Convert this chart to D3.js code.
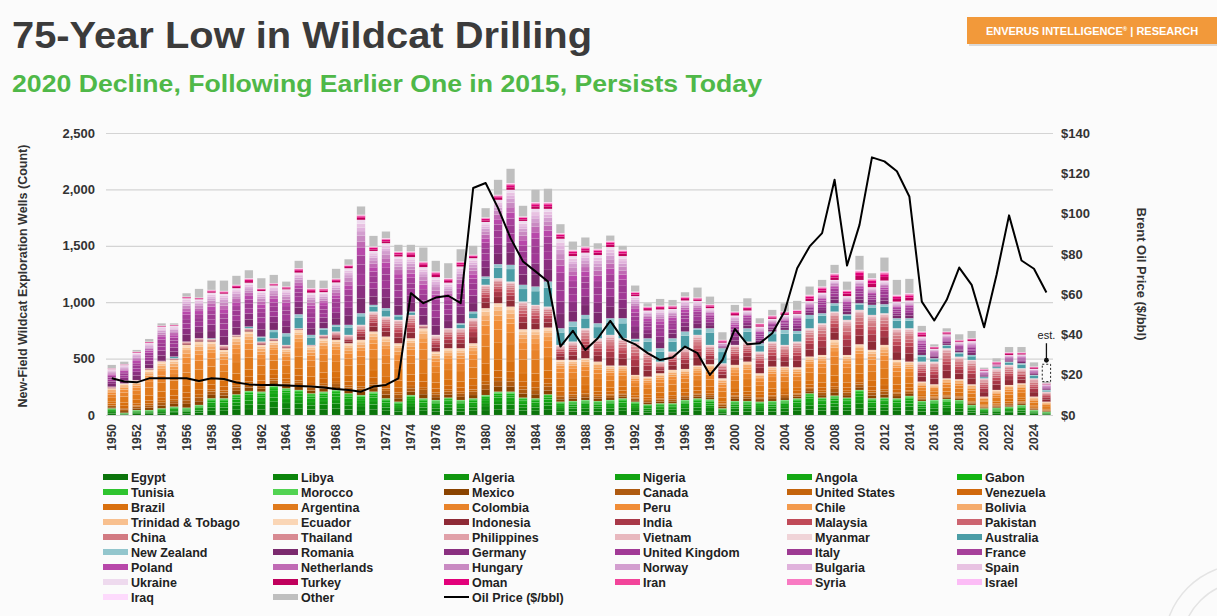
<!DOCTYPE html>
<html><head><meta charset="utf-8">
<script src="https://cdn.jsdelivr.net/npm/d3@7"></script>
<style>
body{margin:0;background:#fbfbfb}
svg{display:block;font-family:"Liberation Sans",Arial,Helvetica,sans-serif}
</style>
</head><body>
<svg id="chart" width="1217" height="616"></svg>
<script>
// ---------------- DATA ----------------
const years = d3.range(1950, 2026);
const xTickYears = d3.range(1950, 2026, 2);
const leftTicks = [0, 500, 1000, 1500, 2000, 2500];
const rightTicks = [0, 20, 40, 60, 80, 100, 120, 140];

// wells per region
const africa = [59,20,44,44,59,74,65,89,148,148,183,213,207,260,237,222,192,207,222,192,177,207,148,118,177,148,133,154,133,148,177,207,207,154,148,183,118,124,133,124,133,148,118,95,104,104,133,148,139,59,124,124,118,124,133,148,192,154,172,154,222,148,154,148,169,124,133,142,133,89,59,65,74,89,44,30];
const americas = [178,257,252,356,414,414,556,562,503,429,512,527,414,397,355,532,419,473,444,444,489,533,547,518,503,621,429,438,459,488,770,784,754,606,612,592,370,364,370,349,305,290,237,245,266,296,275,290,311,266,320,349,252,305,296,275,326,378,494,378,405,429,467,340,304,172,139,183,184,183,104,157,192,192,119,88];
const asia = [14,4,14,14,7,15,30,29,24,44,15,29,30,23,29,15,10,30,74,74,133,177,178,207,207,30,148,177,177,222,207,222,222,246,216,186,133,163,266,207,272,242,296,222,103,162,184,272,171,133,177,178,192,222,192,228,251,281,251,311,305,310,281,281,296,177,201,267,200,216,162,192,178,133,162,89];
const oceania = [0,0,0,0,0,15,0,0,5,0,0,15,44,74,104,124,89,59,59,89,103,59,74,44,30,0,0,0,44,59,74,124,148,148,163,222,148,177,118,133,148,178,24,118,119,118,148,59,148,134,0,118,74,89,133,94,118,89,74,50,59,89,80,89,89,59,30,29,39,44,15,15,29,45,30,15];
const europe = [155,161,242,224,303,272,384,346,404,454,414,388,404,394,389,369,374,320,376,502,828,478,576,518,483,512,512,404,503,473,483,570,665,566,688,644,793,581,552,605,631,551,379,246,343,260,275,242,178,49,261,157,147,112,133,152,123,182,206,161,206,157,210,147,157,163,84,94,90,123,53,19,58,77,54,49];
const mideast = [8,8,10,12,10,10,15,15,25,25,30,40,25,20,25,40,40,35,35,30,45,40,45,45,50,50,50,40,45,30,40,45,60,40,60,60,50,55,55,55,55,55,40,35,35,30,35,30,35,25,35,35,30,30,30,35,55,55,60,55,90,80,80,60,65,45,20,25,20,25,15,25,25,20,20,10];
const other = [30,23,15,24,20,13,30,77,83,92,80,72,89,74,44,65,74,68,86,50,74,94,59,59,59,124,95,133,109,80,83,133,127,95,110,119,80,74,80,50,47,36,54,30,59,50,39,89,68,68,59,74,45,50,74,80,74,59,74,74,124,44,124,133,127,50,20,29,50,65,12,30,47,47,38,15];
const est2025 = 450; // full-year estimate shown as dashed box

// Brent oil price ($/bbl, real)
const oilPrice = [18.2,16.6,16.2,18.2,18.2,18.2,18.2,16.9,18.2,17.9,16.1,15.2,14.9,14.9,14.6,14.4,14.1,13.6,12.9,12.4,11.6,14.1,14.9,18.2,60.5,55.5,58.3,59.2,55.5,112.7,115.2,102.7,87.8,76.2,71.3,66.3,34.0,41.8,32.3,38.1,46.7,37.8,35.1,30.7,27.3,28.5,34.0,30.7,19.9,27.3,42.7,35.1,35.6,40.6,51.5,72.9,83.7,90.3,116.8,74.2,94.4,127.9,125.9,121.0,108.5,56.3,46.9,57.2,73.2,64.6,43.6,69.6,99.1,76.7,72.6,60.8];

// countries per region and estimated share of the region's wells
const africaCountries = ["Egypt","Libya","Algeria","Nigeria","Angola","Gabon","Tunisia","Morocco"];
const africaShares = [0.25,0.2,0.15,0.15,0.1,0.07,0.05,0.03];
const americasCountries = ["Mexico","Canada","United States","Venezuela","Brazil","Argentina","Colombia","Peru","Chile","Bolivia","Trinidad & Tobago","Ecuador"];
const americasShares = [0.06,0.06,0.04,0.08,0.12,0.2,0.14,0.1,0.06,0.06,0.04,0.04];
const asiaCountries = ["Indonesia","India","Malaysia","Pakistan","China","Thailand","Philippines","Vietnam","Myanmar"];
const asiaShares = [0.25,0.2,0.12,0.1,0.1,0.08,0.06,0.05,0.04];
const oceaniaCountries = ["Australia","New Zealand"];
const oceaniaShares = [0.75,0.25];
const europeCountries = ["Romania","Germany","United Kingdom","Italy","France","Poland","Netherlands","Hungary","Norway","Bulgaria","Spain","Ukraine"];
const europeShares = [0.16,0.14,0.12,0.1,0.1,0.08,0.07,0.06,0.05,0.04,0.04,0.04];
const mideastCountries = ["Turkey","Oman","Iran","Syria","Israel","Iraq"];
const mideastShares = [0.4,0.3,0.12,0.08,0.05,0.05];

const seriesColors = {
  "Egypt":"#0b740b","Libya":"#0c840c","Algeria":"#10960f","Nigeria":"#12a312","Angola":"#14a814","Gabon":"#12b412",
  "Tunisia":"#2fc42f","Morocco":"#52d352","Mexico":"#8a4300","Canada":"#ae5a10","United States":"#c4640c","Venezuela":"#d0680c",
  "Brazil":"#d9700f","Argentina":"#e07a1c","Colombia":"#e8832a","Peru":"#f08c36","Chile":"#f39a4c","Bolivia":"#f5ab6c",
  "Trinidad & Tobago":"#f8c08f","Ecuador":"#fad6b6","Indonesia":"#8e2a36","India":"#a83848","Malaysia":"#c04a58","Pakistan":"#cc6470",
  "China":"#d27a82","Thailand":"#d88a92","Philippines":"#e0a0a8","Vietnam":"#e8b8be","Myanmar":"#f0d4d8","Australia":"#4b9da6",
  "New Zealand":"#93c6cd","Romania":"#7b2a6e","Germany":"#8a3080","United Kingdom":"#a13a96","Italy":"#9d3a92","France":"#a6409a",
  "Poland":"#b848aa","Netherlands":"#c06ab4","Hungary":"#c98ac2","Norway":"#d39ecf","Bulgaria":"#e0b2dc","Spain":"#e8c2e2",
  "Ukraine":"#eedaee","Turkey":"#c0005c","Oman":"#e2007a","Iran":"#f2449a","Syria":"#f87ac2","Israel":"#fcbcf6","Iraq":"#fddafc",
  "Other":"#bfbfbf"
};

// ---------------- BUILD ----------------
const groups = [
  [africa, africaCountries, africaShares],
  [americas, americasCountries, americasShares],
  [asia, asiaCountries, asiaShares],
  [oceania, oceaniaCountries, oceaniaShares],
  [europe, europeCountries, europeShares],
  [mideast, mideastCountries, mideastShares],
  [other, ["Other"], [1]]
];
const keys = groups.flatMap(g => g[1]);
const rows = years.map((yr, i) => {
  const o = {year: yr};
  groups.forEach(([vals, names, shares]) => names.forEach((n, j) => { o[n] = vals[i] * shares[j]; }));
  return o;
});
const totals = rows.map(r => d3.sum(keys, k => r[k]));

const svg = d3.select("#chart");
const font = '"Liberation Sans",Arial,Helvetica,sans-serif';

svg.append("rect").attr("width",1217).attr("height",616).attr("fill","#fbfbfb");
// decorative arcs bottom-right
[[1245,645,81],[1245,645,63]].forEach(([cx,cy,r]) => {
  svg.append("circle").attr("cx",cx).attr("cy",cy).attr("r",r).attr("fill","none").attr("stroke","#e4e4e4").attr("stroke-width",1.5);
});

// header
svg.append("text").attr("x",12).attr("y",48).text("75-Year Low in Wildcat Drilling")
  .attr("font-size",36).attr("font-weight","bold").attr("fill","#3b3b3b").attr("textLength",580).attr("lengthAdjust","spacingAndGlyphs");
svg.append("text").attr("x",12).attr("y",92).text("2020 Decline, Following Earlier One in 2015, Persists Today")
  .attr("font-size",24.5).attr("font-weight","bold").attr("fill","#4fb848").attr("textLength",750).attr("lengthAdjust","spacingAndGlyphs");
svg.append("rect").attr("x",969).attr("y",19).attr("width",248).attr("height",27).attr("fill","#d9d9d9");
svg.append("rect").attr("x",967).attr("y",17).attr("width",250).attr("height",27).attr("fill","#f2993a");
const brand = svg.append("text").attr("x",1092).attr("y",35).attr("text-anchor","middle")
  .attr("font-size",11).attr("font-weight","bold").attr("fill","#fff");
brand.append("tspan").text("ENVERUS INTELLIGENCE");
brand.append("tspan").text("®").attr("font-size",6).attr("dy",-4);
brand.append("tspan").text(" | RESEARCH").attr("dy",4);

// scales
const x = d3.scaleBand().domain(years).range([107.6, 1050.6]).paddingInner(0.33).paddingOuter(0);
const y = d3.scaleLinear().domain([0, 2500]).range([415, 133]);
const yR = d3.scaleLinear().domain([0, 140]).range([415, 133]);

// gridlines
svg.append("g").attr("transform","translate(106,0)")
  .call(d3.axisLeft(y).tickValues(leftTicks).tickSize(-947).tickFormat(""))
  .call(g => g.select(".domain").remove())
  .call(g => g.selectAll("line").attr("stroke","#d4d4d4").attr("stroke-width",1.2));

// left axis labels
svg.append("g").attr("transform","translate(98,0)")
  .call(d3.axisLeft(y).tickValues(leftTicks).tickSize(0).tickFormat(d3.format(",")))
  .call(g => g.select(".domain").remove())
  .call(g => g.selectAll("text").attr("font-size",13).attr("font-weight","bold").attr("fill","#333").attr("font-family",font));

// right axis labels
svg.append("g").attr("transform","translate(1058,0)")
  .call(d3.axisRight(yR).tickValues(rightTicks).tickSize(0).tickFormat(d => "$" + d))
  .call(g => g.select(".domain").remove())
  .call(g => g.selectAll("text").attr("font-size",13).attr("font-weight","bold").attr("fill","#333").attr("font-family",font));

// bottom axis labels
svg.append("g").attr("transform","translate(0,418)")
  .call(d3.axisBottom(x).tickValues(xTickYears).tickSize(0))
  .call(g => g.select(".domain").remove())
  .call(g => g.selectAll("text").attr("font-size",12).attr("font-weight","bold").attr("fill","#333").attr("font-family",font)
    .attr("text-anchor","end").attr("transform","rotate(-90)").attr("x",-6).attr("y",0).attr("dy","0.35em"));

// axis titles
svg.append("text").attr("transform","translate(27,276) rotate(-90)").attr("text-anchor","middle")
  .attr("font-size",12.5).attr("font-weight","bold").attr("fill","#333").text("New-Field Wildcat Exploration Wells (Count)");
svg.append("text").attr("transform","translate(1137,274) rotate(90)").attr("text-anchor","middle")
  .attr("font-size",13).attr("font-weight","bold").attr("fill","#333").text("Brent Oil Price ($/bbl)");

// stacked bars
const stacked = d3.stack().keys(keys)(rows);
svg.append("g").selectAll("g").data(stacked).join("g")
  .attr("fill", d => seriesColors[d.key])
  .selectAll("rect").data(d => d).join("rect")
  .attr("x", d => x(d.data.year))
  .attr("width", x.bandwidth())
  .attr("y", d => y(d[1]))
  .attr("height", d => Math.max(0, y(d[0]) - y(d[1])))
  .attr("stroke","#ffffff").attr("stroke-width",0.2).attr("stroke-opacity",0.4);

// 2025 estimate box
const lastYear = years[years.length - 1];
const lastTotal = totals[totals.length - 1];
svg.append("rect").attr("x", x(lastYear)).attr("width", x.bandwidth())
  .attr("y", y(est2025)).attr("height", y(lastTotal) - y(est2025))
  .attr("fill","none").attr("stroke","#222").attr("stroke-width",1).attr("stroke-dasharray","2,2");
const cx = x(lastYear) + x.bandwidth()/2;
svg.append("line").attr("x1",cx).attr("x2",cx).attr("y1",y(est2025) - 21).attr("y2",y(est2025) - 4)
  .attr("stroke","#111").attr("stroke-width",1.3);
svg.append("circle").attr("cx",cx).attr("cy",y(est2025) - 4).attr("r",2.4).attr("fill","#111");
svg.append("text").attr("x",cx).attr("y",y(est2025) - 25).attr("text-anchor","middle")
  .attr("font-size",11).attr("fill","#222").text("est.");

// oil price line
const line = d3.line().x((d, i) => x(years[i]) + x.bandwidth()/2).y(d => yR(d));
svg.append("path").datum(oilPrice).attr("d", line).attr("fill","none")
  .attr("stroke","#000").attr("stroke-width",2).attr("stroke-linejoin","round");

// legend
const legendItems = keys.map(k => ({name:k, color:seriesColors[k], type:"rect"}))
  .concat([{name:"Oil Price ($/bbl)", color:"#000", type:"line"}]);
const colX = [103, 273, 444, 615, 787, 957];
const leg = svg.append("g");
legendItems.forEach((it, i) => {
  const cxl = colX[i % 6], cy = 477 + Math.floor(i / 6) * 15;
  if (it.type === "rect") {
    leg.append("rect").attr("x",cxl).attr("y",cy-3).attr("width",25).attr("height",6).attr("fill",it.color);
  } else {
    leg.append("line").attr("x1",cxl).attr("x2",cxl+25).attr("y1",cy).attr("y2",cy).attr("stroke","#000").attr("stroke-width",2);
  }
  leg.append("text").attr("x",cxl+28).attr("y",cy).attr("dy","0.36em")
    .attr("font-size",12.5).attr("font-weight","bold").attr("fill","#222").text(it.name);
});
</script>
</body></html>
